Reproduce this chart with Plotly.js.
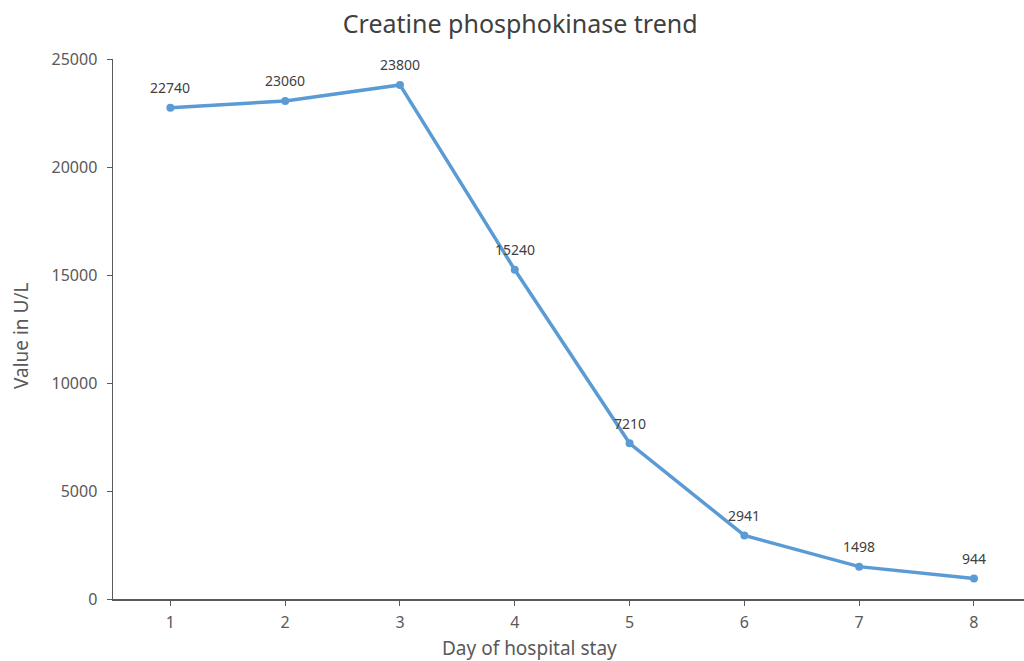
<!DOCTYPE html>
<html>
<head>
<meta charset="utf-8">
<script src="https://cdn.plot.ly/plotly-3.0.1.min.js"></script>
<style>html,body{margin:0;padding:0;background:#fff;}#chart{width:1024px;height:661px;}</style>
</head>
<body>
<div id="chart"></div>
<script>
const days = [1, 2, 3, 4, 5, 6, 7, 8];
const cpkValues = [22740, 23060, 23800, 15240, 7210, 2941, 1498, 944];
const xTickLabels = ["1", "2", "3", "4", "5", "6", "7", "8"];
const yTickValues = [0, 5000, 10000, 15000, 20000, 25000];
const xTitleText = 'Day of hospital stay';
const yTitleText = 'Value in U/L';

const trace = {
  x: days,
  y: cpkValues,
  type: 'scatter',
  mode: 'lines+markers',
  line: {color: '#5B9BD5', width: 3.5},
  marker: {color: '#5B9BD5', size: 8},
  cliponaxis: false,
  hoverinfo: 'x+y'
};

const labelAnnotations = days.map((d, i) => ({
  x: d,
  y: cpkValues[i],
  xref: 'x',
  yref: 'y',
  text: String(cpkValues[i]),
  showarrow: false,
  xanchor: 'center',
  yanchor: 'middle',
  yshift: 20,
  font: {family: 'Noto Sans, sans-serif', size: 14, color: '#404040'}
}));

const titleAnnotations = [
  {
    text: xTitleText, xref: 'paper', yref: 'paper', x: 0.4577, y: 0,
    xanchor: 'center', yanchor: 'middle', yshift: -49, showarrow: false,
    font: {family: 'Noto Sans, sans-serif', size: 19, color: '#595959'}
  },
  {
    text: yTitleText, xref: 'paper', yref: 'paper', x: 0, y: 0.487,
    xanchor: 'center', yanchor: 'middle', xshift: -92, textangle: -90, showarrow: false,
    font: {family: 'Noto Sans, sans-serif', size: 19, color: '#595959'}
  }
];

const layout = {
  width: 1024,
  height: 661,
  paper_bgcolor: '#ffffff',
  plot_bgcolor: '#ffffff',
  margin: {l: 113, r: 0, t: 59, b: 62},
  showlegend: false,
  annotations: labelAnnotations.concat(titleAnnotations),
  title: {
    text: 'Creatine phosphokinase trend',
    font: {family: 'Noto Sans, sans-serif', size: 25, color: '#404040'},
    xref: 'container', x: 0.508, xanchor: 'center', y: 0.963, yanchor: 'middle'
  },
  xaxis: {
    range: [0.5, 8.436],
    tickvals: days,
    ticktext: xTickLabels,
    showgrid: false,
    zeroline: false,
    showline: true,
    linecolor: '#595959',
    linewidth: 1.5,
    ticks: 'outside',
    ticklen: 5,
    tickcolor: '#595959',
    ticklabelstandoff: 3,
    tickfont: {family: 'Noto Sans, sans-serif', size: 16, color: '#595959'}
  },
  yaxis: {
    range: [0, 25000],
    tickvals: yTickValues,
    showgrid: false,
    zeroline: false,
    showline: true,
    linecolor: '#595959',
    linewidth: 1.5,
    ticks: 'outside',
    ticklen: 5,
    tickcolor: '#595959',
    ticklabelstandoff: 6,
    tickformat: 'd',
    tickfont: {family: 'Noto Sans, sans-serif', size: 16, color: '#595959'}
  }
};

Plotly.newPlot('chart', [trace], layout, {displayModeBar: false, staticPlot: true});
</script>
</body>
</html>
